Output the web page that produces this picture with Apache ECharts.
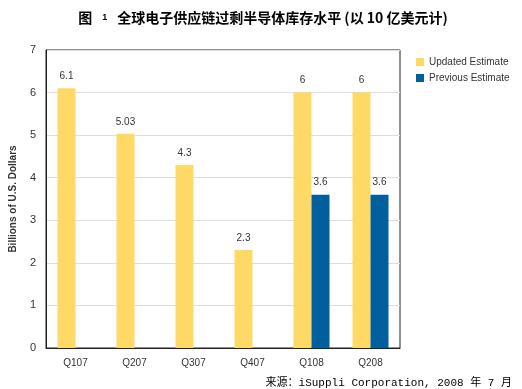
<!DOCTYPE html>
<html><head><meta charset="utf-8">
<script src="https://cdn.jsdelivr.net/npm/echarts@6/dist/echarts.min.js"></script>
<style>html,body{margin:0;padding:0;background:#fff}#c{width:522px;height:389px}</style>
</head><body><div id="c"></div>
<script>
const categories = ['Q107','Q207','Q307','Q407','Q108','Q208'];
const updatedEstimate = [6.1, 5.03, 4.3, 2.3, 6, 6];
const previousEstimate = [null, null, null, null, 3.6, 3.6];
const yTicks = [0,1,2,3,4,5,6,7];

const chart = echarts.init(document.getElementById('c'));
chart.setOption({
  animation: false,
  title: [{
    text: '{a|图}{b|1}{a|全球电子供应链过剩半导体库存水平 (以 10 亿美元计)}',
    left: 258, top: 6, textAlign: 'center',
    textStyle: {
      rich: {
        a: {fontSize: 14, fontWeight: 'bold', color: '#000', fontFamily: 'Noto Sans CJK SC'},
        b: {fontSize: 9, color: '#000', padding: [0, 10, 0, 10], fontFamily: 'Arial, Liberation Sans'}
      }
    }
  }, {
    text: '来源：iSuppli Corporation, 2008 年 7 月',
    right: 5, top: 373,
    textStyle: {fontSize: 11, fontWeight: 'normal', color: '#000', fontFamily: 'Liberation Mono, Noto Sans CJK SC'}
  }],
  legend: {
    orient: 'vertical', left: 411, top: 52, itemWidth: 8, itemHeight: 8, itemGap: 6,
    icon: 'rect',
    textStyle: {fontSize: 10, color: '#333', fontFamily: 'Liberation Sans, Arial'},
    data: ['Updated Estimate', 'Previous Estimate']
  },
  grid: {left: 43, right: 122, top: 50, bottom: 41, show: true, borderColor: '#222', borderWidth: 1, containLabel: false},
  xAxis: {
    type: 'category', data: categories,
    axisLine: {lineStyle: {color: '#222'}}, axisTick: {show: false},
    axisLabel: {fontSize: 10, color: '#333', margin: 10, fontFamily: 'Liberation Sans, Arial'}
  },
  yAxis: {
    type: 'value', min: 0, max: 7, interval: 1,
    name: 'Billions of U.S. Dollars', nameLocation: 'middle', nameGap: 28, nameRotate: 90,
    nameTextStyle: {fontSize: 10, fontWeight: 'bold', color: '#333', fontFamily: 'Liberation Sans, Arial'},
    axisLine: {show: true, lineStyle: {color: '#222'}}, axisTick: {show: false},
    axisLabel: {fontSize: 11, color: '#333', margin: 10, fontFamily: 'Liberation Sans, Arial',
      formatter: v => yTicks.includes(v) ? String(v) : ''},
    splitLine: {lineStyle: {color: '#ddd'}}
  },
  series: [{
    name: 'Updated Estimate', type: 'bar', data: updatedEstimate, barWidth: 18, barGap: '0%',
    itemStyle: {color: '#FFD966'},
    label: {show: true, position: 'top', distance: 7, fontSize: 10, color: '#333', fontFamily: 'Liberation Sans, Arial'}
  }, {
    name: 'Previous Estimate', type: 'bar', data: previousEstimate, barWidth: 18, barGap: '0%',
    itemStyle: {color: '#00609E'},
    label: {show: true, position: 'top', distance: 7, fontSize: 10, color: '#333', fontFamily: 'Liberation Sans, Arial'}
  }]
});
</script></body></html>
